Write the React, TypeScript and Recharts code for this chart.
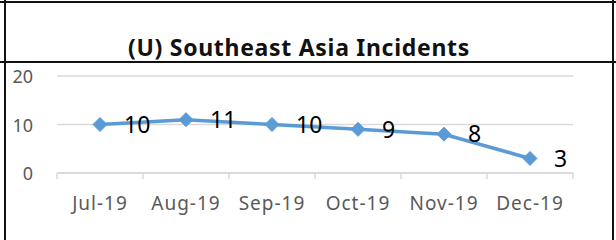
import React from "react";
import { LineChart, Line, XAxis, YAxis, CartesianGrid, LabelList } from "recharts";

const months = ["Jul-19", "Aug-19", "Sep-19", "Oct-19", "Nov-19", "Dec-19"];
const incidents = [10, 11, 10, 9, 8, 3];
const yTicks = [0, 10, 20];

const data = months.map((m, i) => ({ month: m, value: incidents[i] }));

const BLUE = "#5b9bd5";
const GRID = "#d9d9d9";
const FONT = "'Noto Sans', 'Open Sans', sans-serif";

function Diamond(props: any) {
  const { cx, cy } = props;
  if (cx == null || cy == null) return null;
  const r = 7;
  return (
    <polygon
      points={`${cx},${cy - r} ${cx + r},${cy} ${cx},${cy + r} ${cx - r},${cy}`}
      fill={BLUE}
      stroke={BLUE}
    />
  );
}

function MonthTick(props: any) {
  const { x, y, payload, index, visibleTicksCount, width } = props;
  const half =
    payload && payload.offset ? payload.offset : width / (visibleTicksCount || 1) / 2;
  const last = index === (visibleTicksCount || 0) - 1;
  return (
    <g>
      <line x1={x - half} y1={y} x2={x - half} y2={y + 6} stroke={GRID} strokeWidth={1.5} />
      {last && (
        <line x1={x + half} y1={y} x2={x + half} y2={y + 6} stroke={GRID} strokeWidth={1.5} />
      )}
      <text
        x={x}
        y={y + 37}
        textAnchor="middle"
        fill="#595959"
        fontSize={19}
        letterSpacing={1}
        fontFamily={FONT}
      >
        {payload.value}
      </text>
    </g>
  );
}

function ValueTick(props: any) {
  const { x, y, payload } = props;
  return (
    <text x={x - 24} y={y + 7} textAnchor="end" fill="#595959" fontSize={18} fontFamily={FONT}>
      {payload.value}
    </text>
  );
}

const line = (style: React.CSSProperties) => (
  <div style={{ position: "absolute", background: "#111", ...style }} />
);

export default function App() {
  return (
    <div
      style={{
        position: "absolute",
        left: 0,
        top: 0,
        width: 616,
        height: 240,
        background: "#fff",
        overflow: "hidden",
      }}
    >
      <LineChart
        width={616}
        height={240}
        data={data}
        margin={{ top: 76, right: 43, left: 17, bottom: 27 }}
      >
        <CartesianGrid vertical={false} stroke={GRID} strokeWidth={1.5} />
        <XAxis
          dataKey="month"
          scale="band"
          height={40}
          tickLine={false}
          tickSize={0}
          tickMargin={0}
          axisLine={{ stroke: GRID, strokeWidth: 1.5 }}
          tick={<MonthTick />}
          interval={0}
        />
        <YAxis
          width={40}
          domain={[0, 20]}
          ticks={yTicks}
          axisLine={false}
          tickLine={false}
          tickSize={0}
          tickMargin={0}
          tick={<ValueTick />}
        />
        <Line
          type="linear"
          dataKey="value"
          stroke={BLUE}
          strokeWidth={3.5}
          dot={<Diamond />}
          activeDot={false}
          isAnimationActive={false}
        >
          <LabelList
            dataKey="value"
            position="right"
            offset={24}
            fill="#000"
            fontSize={23}
            fontFamily={FONT}
          />
        </Line>
      </LineChart>
      <div
        style={{
          position: "absolute",
          left: 0,
          top: 32,
          width: 598,
          textAlign: "center",
          fontFamily: FONT,
          fontWeight: 700,
          fontSize: 23,
          lineHeight: "30px",
          letterSpacing: 0.7,
          color: "#111",
        }}
      >
        (U) Southeast Asia Incidents
      </div>
      {line({ left: 0, top: 1, width: 616, height: 2 })}
      {line({ left: 0, top: 61, width: 616, height: 2 })}
      {line({ left: 4, top: 0, width: 2, height: 240 })}
      {line({ left: 612, top: 0, width: 2, height: 240 })}
    </div>
  );
}
